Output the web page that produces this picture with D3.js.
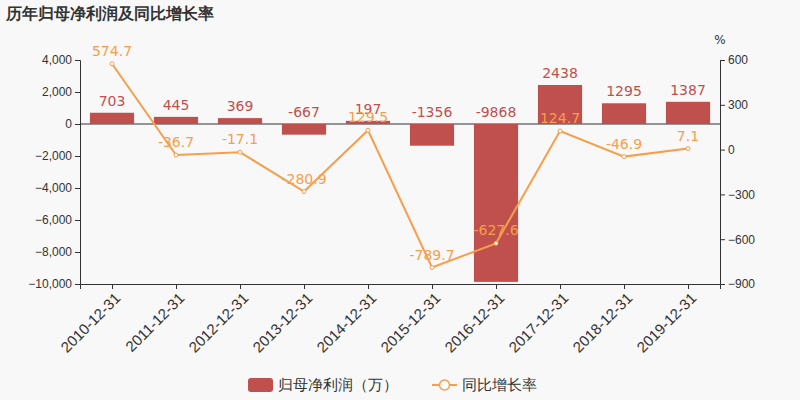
<!DOCTYPE html><html><head><meta charset="utf-8"><script src="https://cdn.jsdelivr.net/npm/d3@7"></script>
<style>body{margin:0;background:#f8f8f8}svg{font-family:"DejaVu Sans",sans-serif}</style></head><body><svg id="c" width="800" height="400"></svg>
<script>
const categories=["2010-12-31","2011-12-31","2012-12-31","2013-12-31","2014-12-31","2015-12-31","2016-12-31","2017-12-31","2018-12-31","2019-12-31"];
const profit=[703,445,369,-667,197,-1356,-9868,2438,1295,1387];
const growth=[574.7,-36.7,-17.1,-280.9,129.5,-789.7,-627.6,124.7,-46.9,7.1];
const leftTicks=[4000,2000,0,-2000,-4000,-6000,-8000,-10000];
const rightTicks=[600,300,0,-300,-600,-900];
const svg=d3.select("#c");
svg.append("rect").attr("width",800).attr("height",400).attr("fill","#f8f8f8");
const x=d3.scaleBand().domain(categories).range([80,720]).paddingInner(0.31).paddingOuter(0.155);
const xc=d3.scalePoint().domain(categories).range([80,720]).padding(0.5);
const y=d3.scaleLinear().domain([-10000,4000]).range([284,60]);
const y2=d3.scaleLinear().domain([-900,600]).range([284,60]);
svg.append("text").attr("x",6).attr("y",19).text("历年归母净利润及同比增长率").attr("font-size",16).attr("font-weight","bold").attr("fill","#333");
const la=svg.append("g").attr("transform","translate(80,0)").call(d3.axisLeft(y).tickValues(leftTicks).tickFormat(d3.format(",")).tickSize(5));
const ra=svg.append("g").attr("transform","translate(720,0)").call(d3.axisRight(y2).tickValues(rightTicks).tickSize(5));
[la,ra].forEach(a=>{a.selectAll("path,line").attr("stroke","#333");a.selectAll("text").attr("fill","#333").attr("font-size",12);});
svg.append("text").attr("x",720).attr("y",44).attr("text-anchor","middle").attr("font-size",12).attr("fill","#333").text("%");
const xa=svg.append("g").attr("transform","translate(0,284)").call(d3.axisBottom(xc).tickSize(5));
xa.selectAll("path,line").attr("stroke","#333");
xa.selectAll("text").attr("fill","#333").attr("font-size",15).attr("text-anchor","end").attr("dx","-0.3em").attr("dy","0.6em").attr("transform","rotate(-45)");
svg.append("line").attr("x1",80).attr("x2",720).attr("y1",y(0)).attr("y2",y(0)).attr("stroke","#333");
svg.selectAll(".bar").data(profit).join("rect").attr("x",(d,i)=>x(categories[i])).attr("width",x.bandwidth())
 .attr("y",d=>y(Math.max(d,0))).attr("height",d=>Math.abs(y(d)-y(0))).attr("fill","#c0504d");
svg.selectAll(".bl").data(profit).join("text").attr("x",(d,i)=>xc(categories[i])).attr("y",d=>y(Math.max(d,0))-7)
 .attr("text-anchor","middle").attr("font-size",14).attr("fill","#c0504d").text(d=>d);
const line=d3.line().x((d,i)=>xc(categories[i])).y(d=>y2(d));
svg.append("path").datum(growth).attr("d",line).attr("fill","none").attr("stroke","#f79e4b").attr("stroke-width",2);
svg.selectAll(".pt").data(growth).join("circle").attr("cx",(d,i)=>xc(categories[i])).attr("cy",d=>y2(d)).attr("r",2).attr("fill","#fff").attr("stroke","#f79e4b");
svg.selectAll(".gl").data(growth).join("text").attr("x",(d,i)=>xc(categories[i])).attr("y",d=>y2(d)-8)
 .attr("text-anchor","middle").attr("font-size",14).attr("fill","#f79e4b").text(d=>d);
const lg=svg.append("g");
lg.append("rect").attr("x",248).attr("y",378).attr("width",25).attr("height",14).attr("rx",3).attr("fill","#c0504d");
lg.append("text").attr("x",278).attr("y",390).attr("font-size",15).attr("fill","#333").text("归母净利润（万）");
lg.append("line").attr("x1",432).attr("x2",457).attr("y1",385).attr("y2",385).attr("stroke","#f79e4b").attr("stroke-width",2);
lg.append("circle").attr("cx",444.5).attr("cy",385).attr("r",5).attr("fill","#fff").attr("stroke","#f79e4b").attr("stroke-width",1.5);
lg.append("text").attr("x",462).attr("y",390).attr("font-size",15).attr("fill","#333").text("同比增长率");
</script></body></html>
